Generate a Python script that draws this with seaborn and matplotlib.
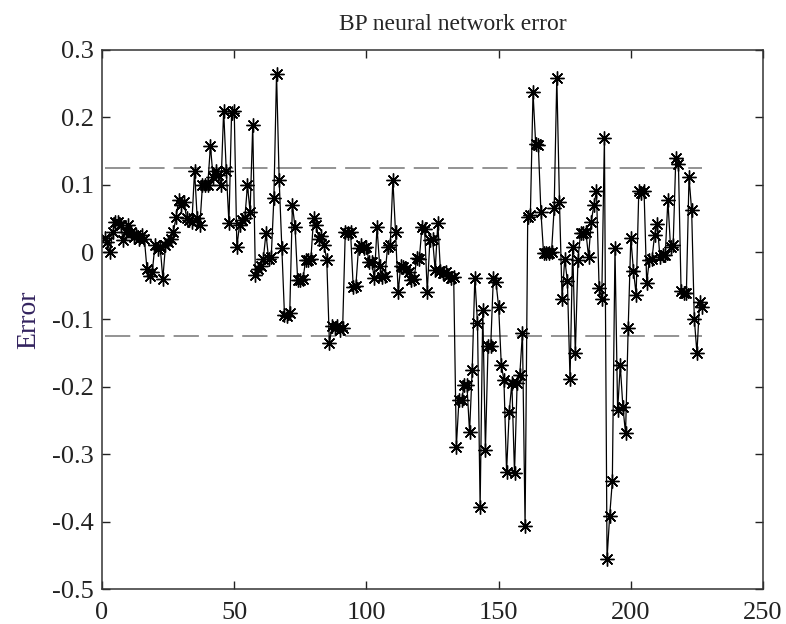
import numpy as np
import pandas as pd
import matplotlib
matplotlib.use('Agg')
import matplotlib.pyplot as plt
import seaborn as sns

# 网络误差 (读自原图, 样本 1..227)
err = [
    0.021, 0.015, 0.000, 0.030, 0.044, 0.045, 0.040, 0.018, 0.030, 0.040,
    0.030, 0.022, 0.025, 0.020, 0.025, 0.020, -0.025, -0.035, -0.030, 0.010,
    0.005, 0.008, -0.040, 0.010, 0.015, 0.020, 0.030, 0.052, 0.077, 0.070,
    0.075, 0.050, 0.047, 0.045, 0.121, 0.050, 0.040, 0.100, 0.099, 0.100,
    0.158, 0.111, 0.120, 0.114, 0.100, 0.210, 0.120, 0.043, 0.207, 0.210,
    0.008, 0.040, 0.047, 0.050, 0.099, 0.060, 0.188, -0.034, -0.025, -0.020,
    -0.010, 0.028, -0.010, -0.007, 0.080, 0.265, 0.107, 0.006, -0.093, -0.095,
    -0.090, 0.070, 0.037, -0.042, -0.042, -0.040, -0.012, -0.012, -0.010, 0.050,
    0.040, 0.020, 0.024, 0.010, -0.012, -0.135, -0.110, -0.112, -0.110, -0.115,
    -0.113, 0.030, 0.028, 0.030, -0.052, -0.050, 0.006, 0.010, 0.006, 0.008,
    -0.015, -0.015, -0.039, 0.037, -0.020, -0.037, -0.035, 0.008, 0.010, 0.107,
    0.030, -0.059, -0.020, -0.022, -0.025, -0.030, -0.042, -0.040, -0.009, -0.010,
    0.037, 0.035, -0.059, 0.018, 0.020, -0.027, 0.043, -0.028, -0.031, -0.030,
    -0.035, -0.038, -0.037, -0.289, -0.219, -0.220, -0.197, -0.197, -0.267, -0.175,
    -0.038, -0.105, -0.378, -0.086, -0.293, -0.140, -0.140, -0.038, -0.045, -0.081,
    -0.167, -0.190, -0.326, -0.237, -0.194, -0.328, -0.194, -0.182, -0.120, -0.407,
    0.052, 0.055, 0.237, 0.161, 0.159, 0.059, -0.002, -0.002, -0.002, 0.000,
    0.065, 0.259, 0.075, -0.069, -0.010, -0.043, -0.189, 0.008, -0.150, -0.011,
    0.029, 0.029, 0.030, -0.007, 0.044, 0.070, 0.090, -0.053, -0.069, 0.170,
    -0.455, -0.391, -0.340, 0.006, -0.235, -0.168, -0.230, -0.269, -0.112, 0.021,
    -0.028, -0.063, 0.090, 0.088, 0.090, -0.046, -0.011, -0.010, 0.026, 0.042,
    -0.007, -0.005, -0.005, 0.077, 0.008, 0.011, 0.139, 0.130, -0.058, -0.061,
    -0.060, 0.111, 0.062, -0.099, -0.150, -0.074, -0.081,
]
sample = list(range(1, len(err) + 1))
limit = 0.125  # 误差允许范围
xticks = [0, 50, 100, 150, 200, 250]
yticks = [-0.5, -0.4, -0.3, -0.2, -0.1, 0, 0.1, 0.2, 0.3]
ytick_labels = ['-0.5', '-0.4', '-0.3', '-0.2', '-0.1', '0', '0.1', '0.2', '0.3']

sns.set_style('ticks')
plt.rcParams['font.family'] = ['Liberation Serif', 'DejaVu Serif']
plt.rcParams['axes.unicode_minus'] = False

df = pd.DataFrame({'sample': sample, 'error': err})

fig = plt.figure(figsize=(7.86, 6.24), dpi=100)
ax = fig.add_axes([0.1298, 0.056, 0.841, 0.864])

# 误差允许带
for lv in (limit, -limit):
    ax.plot([sample[0], sample[-1]], [lv, lv], color='#8a8a8a',
            linestyle=(0, (14, 5)), linewidth=1.3)

# MATLAB 风格的 '*' 标记
sns.lineplot(data=df, x='sample', y='error', ax=ax, color='black',
             linewidth=0.9, marker=(8, 2, 0), markersize=10,
             markeredgewidth=1.0, markeredgecolor='black', sort=False)

ax.set_xlim(0, 250)
ax.set_ylim(-0.5, 0.3)
ax.set_xticks(xticks)
ax.set_xticklabels([str(t) for t in xticks])
ax.set_yticks(yticks)
ax.set_yticklabels(ytick_labels)
ax.tick_params(direction='in', top=True, right=True, length=6, width=1,
               labelsize=19, colors='#222222')
ax.tick_params(axis='x', pad=9)
ax.tick_params(axis='y', pad=6)
for s in ax.spines.values():
    s.set_linewidth(1.1)
    s.set_color('#333333')

ax.set_xlabel('')
ax.set_ylabel('Error', fontsize=20, color='#33235f', labelpad=8)
ax.set_title('BP neural network error', fontsize=17, pad=14, x=0.53)

fig.savefig('out.png', dpi=100)
